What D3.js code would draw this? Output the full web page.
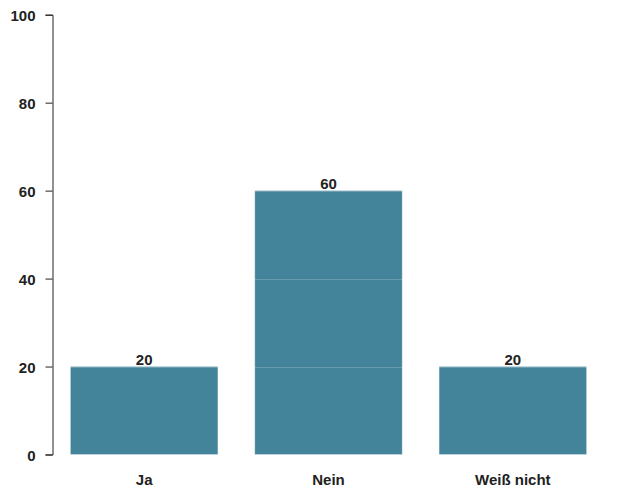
<!DOCTYPE html>
<html><head><meta charset="utf-8">
<script src="https://cdn.jsdelivr.net/npm/d3@7"></script>
<style>body{margin:0;background:#fff}svg{display:block}text{font-family:"Liberation Sans",Arial,sans-serif;font-weight:bold;fill:#222}</style>
</head><body><svg id="c" width="625" height="490"></svg>
<script>
const categories = ["Ja", "Nein", "Weiß nicht"];
const values = [20, 60, 20];
const yTicks = [0, 20, 40, 60, 80, 100];

const svg = d3.select("#c");
const x = d3.scaleBand().domain(categories).range([52, 605]).paddingInner(0.2).paddingOuter(0.1);
const y = d3.scaleLinear().domain([0, 100]).range([454.5, 14.7]);

svg.selectAll("rect.bar").data(values).join("rect")
  .attr("class", "bar")
  .attr("x", (d, i) => x(categories[i]))
  .attr("width", x.bandwidth())
  .attr("y", d => y(d))
  .attr("height", d => y(0) - y(d))
  .attr("fill", "#43849a")
  .attr("stroke", "rgba(255,255,255,0.3)")
  .attr("stroke-width", 1);

// faint gridlines over bars
svg.append("g").selectAll("line").data(yTicks.slice(1)).join("line")
  .attr("x1", 52).attr("x2", 605)
  .attr("y1", d => Math.round(y(d)) + 0.5).attr("y2", d => Math.round(y(d)) + 0.5)
  .attr("stroke", "rgba(255,255,255,0.2)").attr("stroke-width", 1);

const yAxis = svg.append("g").attr("transform", "translate(52.5,0)")
  .call(d3.axisLeft(y).tickValues(yTicks).tickSize(7).tickPadding(10));
yAxis.selectAll("path,line").attr("stroke", "#222");
yAxis.selectAll("text").attr("font-size", 15).attr("font-family", null).attr("dy", "0.4em");

svg.append("g").selectAll("text").data(categories).join("text")
  .attr("x", d => x(d) + x.bandwidth() / 2)
  .attr("y", 485)
  .attr("text-anchor", "middle")
  .attr("font-size", 15)
  .text(d => d);

svg.append("g").selectAll("text").data(values).join("text")
  .attr("x", (d, i) => x(categories[i]) + x.bandwidth() / 2)
  .attr("y", d => y(d) - 2)
  .attr("text-anchor", "middle")
  .attr("font-size", 15)
  .text(d => d);
</script></body></html>
